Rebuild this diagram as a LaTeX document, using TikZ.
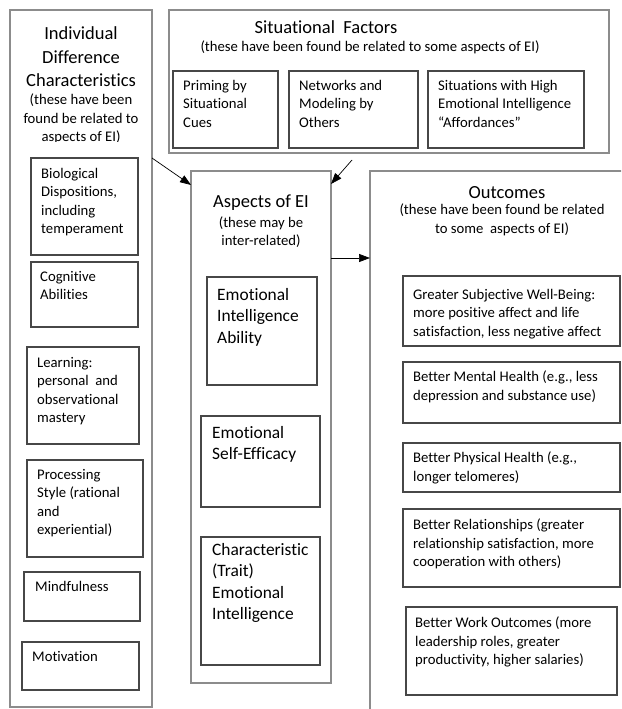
\documentclass[tikz,border=0pt]{standalone}
\usepackage{fontspec}
\setmainfont{Carlito}[RawFeature={-liga;-clig;-calt}]
\usetikzlibrary{fit,arrows.meta}
\newcommand{\ptxt}{\fontsize{14.7}{18.5}\selectfont}
\newcommand{\mtxt}{\fontsize{17.4}{21.5}\selectfont}
\newcommand{\gtxt}{\fontsize{18.5}{23.5}\selectfont}
\newcommand{\cadre}[4]{\node[#1, fit={(#2) (#3)}] (#4) {}}
\tikzset{
	bord/.style={draw=black!45, line width=1.2pt, inner sep=0pt, outer sep=0pt},
	boite/.style={draw=black!72, line width=1.1pt, inner sep=0pt, outer sep=0pt},
	txt/.style={inner sep=0pt, align=left, anchor=north west, font=\ptxt},
	tete/.style={inner sep=0pt, align=center, font=\gtxt},
	sous/.style={inner sep=0pt, align=center, font=\ptxt},
	fleche/.style={-{Triangle[length=11pt,width=8pt]}, line width=0.7pt}
}

\begin{document}
\begin{tikzpicture}[x=1pt,y=-1pt]
	\useasboundingbox (0,0) rectangle (621,709);
	\clip (0,0) rectangle (621,709);
	% grands cadres
	\cadre{bord}{10,10}{152,707}{indiv};
	\cadre{bord}{169,10}{609,153}{situ};
	\cadre{bord}{191,171}{331,683}{aspects};
	\cadre{bord}{370,171}{660,730}{result};
	% individual differences
	\node[tete] (indiv-t) at (81,57) {Individual\\Difference\\Characteristics};
	\begin{scope}
		\clip (10,10) rectangle (152,141);
		\node[sous] (indiv-s) at (81,119) {(these have been\\found be related to\\aspects of EI)};
	\end{scope}
	\cadre{boite}{31,158}{138,255}{bio};
	\cadre{boite}{31,262}{138,327}{cogn};
	\cadre{boite}{27,347}{139,444}{learn};
	\cadre{boite}{27,460}{143,557}{proc};
	\cadre{boite}{24,572}{140,621}{mind};
	\cadre{boite}{22,642}{139,690}{motiv};
	\node[txt] at (41,168) {Biological\\Dispositions,\\including\\temperament};
	\node[txt] at (40,271) {Cognitive\\Abilities};
	\node[txt] at (37,357) {Learning:\\personal\ \ and\\observational\\mastery};
	\node[txt] at (37,469) {Processing\\Style (rational\\and\\experiential)};
	\node[txt] at (35,581) {Mindfulness};
	\node[txt] at (32,651) {Motivation};
	% situational factors
	\node[tete] (situ-t) at (326,27) {Situational\ \ Factors};
	\node[sous] (situ-s) at (370,47) {(these have been found be related to some aspects of EI)};
	\cadre{boite}{173,71}{278,148}{prim};
	\cadre{boite}{289,71}{418,148}{netw};
	\cadre{boite}{428,71}{584,148}{afford};
	\node[txt] at (183,80) {Priming by\\Situational\\Cues};
	\node[txt] at (299,80) {Networks and\\Modeling by\\Others};
	\node[txt] at (438,80) {Situations with High\\Emotional Intelligence\\``Affordances''};
	% aspects of EI
	\node[tete] (aspects-t) at (261,203) {Aspects of EI};
	\node[sous] (aspects-s) at (261,232) {(these may be\\inter-related)};
	\cadre{boite}{207,277}{317,385}{abil};
	\cadre{boite}{201,416}{320,507}{effic};
	\cadre{boite}{201,537}{320,665}{trait};
	\node[txt, font=\mtxt] at (217,288) {Emotional\\Intelligence\\Ability};
	\node[txt, font=\mtxt] at (212,426) {Emotional\\Self-Efficacy};
	\node[txt, font=\mtxt] at (212,543) {Characteristic\\(Trait)\\Emotional\\Intelligence};
	% outcomes
	\node[tete] (result-t) at (507,193) {Outcomes};
	\node[sous] (result-s) at (502,220) {(these have been found be related\\to some\ \ aspects of EI)};
	\cadre{boite}{403,276}{620,346}{wellb};
	\cadre{boite}{403,362}{620,423}{mental};
	\cadre{boite}{403,443}{620,492}{phys};
	\cadre{boite}{403,509}{620,587}{relat};
	\cadre{boite}{406,607}{617,695}{work};
	\node[txt] at (413,289) {Greater Subjective Well-Being:\\more positive affect and life\\satisfaction, less negative affect};
	\node[txt] at (413,371) {Better Mental Health (e.g., less\\depression and substance use)};
	\node[txt] at (413,452) {Better Physical Health (e.g.,\\longer telomeres)};
	\node[txt] at (413,519) {Better Relationships (greater\\relationship satisfaction, more\\cooperation with others)};
	\node[txt] at (415,617) {Better Work Outcomes (more\\leadership roles, greater\\productivity, higher salaries)};
	% fleches
	\coordinate (niv) at (0,258);
	\draw[fleche] (indiv.east |- bio.north) -- ([yshift=-14pt]aspects.north west);
	\draw[fleche] ([xshift=-37pt,yshift=-7pt]situ.south) -- ([yshift=-13pt]aspects.north east);
	\draw[fleche] (aspects.east |- niv) -- (result.west |- niv);
\end{tikzpicture}
\end{document}
